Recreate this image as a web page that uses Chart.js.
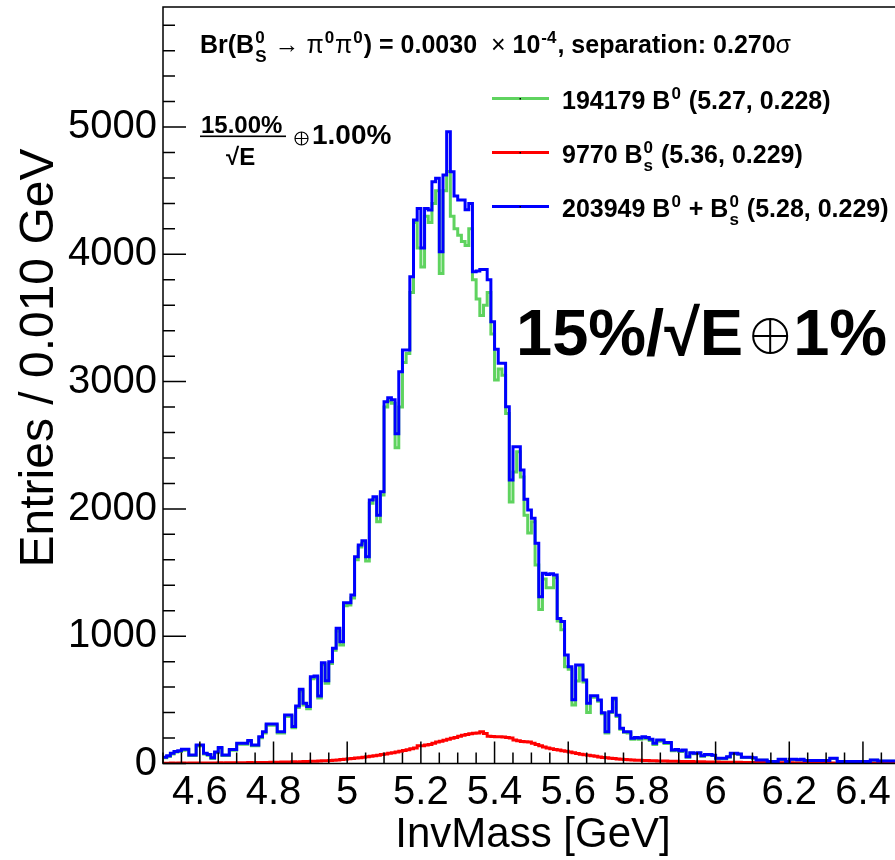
<!DOCTYPE html>
<html>
<head>
<meta charset="utf-8">
<script src="https://cdn.jsdelivr.net/npm/chart.js@4.4.0/dist/chart.umd.min.js"></script>
<style>
  html, body { margin: 0; padding: 0; background: #fff; }
  canvas { display: block; }
</style>
</head>
<body>
<canvas id="massChart" width="895" height="860"></canvas>
<script>
// binning of the histograms (GeV)
const binLow = 4.5;
const binWidth = 0.01;
const xMin = 4.5;
const xMax = 6.487;
const yMax = 5943;

const xTickValues = [4.6, 4.8, 5.0, 5.2, 5.4, 5.6, 5.8, 6.0, 6.2, 6.4];
const yTickValues = [0, 1000, 2000, 3000, 4000, 5000];

// B0 + Bs (blue)
const sumCounts = [
  50, 60, 80, 95, 100, 112, 112, 67, 67, 145,
  145, 80, 70, 45, 90, 125, 67, 67, 110, 110,
  159, 159, 159, 180, 145, 145, 211, 250, 310, 310,
  310, 250, 250, 381, 381, 290, 452, 583, 473, 447,
  682, 688, 530, 792, 650, 800, 905, 1062, 957, 1263,
  1263, 1323, 1625, 1716, 1750, 1625, 2070, 2096, 1950, 2135,
  2842, 2874, 2858, 2590, 3078, 3248, 3248, 3824, 4270, 4361,
  4050, 4361, 4348, 4570, 4597, 4020, 4623, 4963, 4649, 4458,
  4426, 4426, 4350, 4400, 3863, 3870, 3880, 3880, 3800, 3470,
  3254, 3144, 3144, 2803, 2227, 2489, 2489, 2306, 2075, 1991,
  1926, 1730, 1310, 1494, 1485, 1490, 1480, 1140, 1115, 852,
  760, 500, 774, 774, 656, 473, 533, 533, 499, 399,
  250, 407, 512, 380, 276, 250, 250, 198, 205, 200,
  210, 205, 190, 159, 185, 185, 165, 165, 106, 110,
  100, 106, 53, 85, 80, 85, 60, 70, 70, 65,
  41, 41, 41, 53, 80, 80, 75, 50, 50, 50,
  45, 27, 27, 27, 15, 15, 15, 34, 34, 15,
  34, 34, 30, 34, 24, 24, 24, 24, 24, 24,
  24, 41, 41, 15, 15, 15, 15, 15, 15, 15,
  15, 15, 27, 27, 20, 20, 20, 20, 20, 20
];

// B0 (green)
const b0Counts = [
  45, 55, 75, 90, 95, 105, 108, 62, 62, 138,
  140, 75, 65, 40, 85, 120, 62, 62, 105, 105,
  152, 152, 152, 172, 140, 140, 203, 240, 300, 300,
  300, 240, 240, 370, 370, 280, 440, 570, 460, 430,
  665, 675, 515, 775, 630, 785, 890, 1040, 930, 1240,
  1245, 1300, 1600, 1700, 1730, 1590, 2045, 2075, 1900, 2110,
  2800, 2850, 2830, 2480, 2800, 3150, 3220, 3700, 4250, 4050,
  3900, 4300, 4250, 4400, 4500, 3850, 4500, 4650, 4300, 4200,
  4150, 4100, 4070, 4200, 3800, 3650, 3520, 3600, 3700, 3375,
  3013, 3100, 3050, 2750, 2055, 2290, 2450, 2250, 1950, 1810,
  1900, 1560, 1210, 1450, 1380, 1380, 1460, 1120, 1050, 760,
  740, 460, 648, 760, 640, 400, 520, 520, 490, 390,
  240, 400, 500, 370, 270, 245, 240, 190, 195, 190,
  200, 195, 180, 150, 175, 178, 158, 158, 100, 104,
  95, 100, 50, 80, 76, 80, 56, 66, 66, 62,
  38, 38, 38, 50, 76, 76, 72, 47, 47, 47,
  42, 25, 25, 25, 13, 13, 13, 32, 32, 13,
  32, 32, 28, 32, 22, 22, 22, 22, 22, 22,
  22, 39, 39, 13, 13, 13, 13, 13, 13, 13,
  13, 13, 25, 25, 18, 18, 18, 18, 18, 18
];

// Bs (red)
const bsCounts = [
  2, 2, 3, 2, 3, 3, 2, 3, 3, 4,
  3, 4, 4, 3, 4, 5, 4, 5, 5, 6,
  5, 6, 6, 7, 6, 7, 8, 7, 8, 9,
  10, 9, 11, 11, 12, 13, 12, 14, 15, 16,
  17, 18, 19, 21, 22, 24, 26, 28, 31, 34,
  38, 40, 43, 46, 49, 53, 57, 61, 65, 70,
  75, 80, 85, 90, 96, 102, 108, 115, 122, 140,
  140, 145, 150, 160, 168, 175, 182, 190, 198, 205,
  215, 222, 228, 233, 238, 240, 250, 235, 215, 212,
  210, 211, 208, 205, 200, 185, 178, 172, 170, 168,
  160, 150, 140, 130, 122, 115, 110, 106, 100, 96,
  90, 84, 78, 72, 68, 64, 60, 56, 52, 48,
  45, 42, 39, 36, 34, 32, 30, 28, 26, 25,
  24, 23, 22, 21, 20, 20, 19, 18, 18, 17,
  16, 16, 15, 15, 14, 14, 13, 12, 12, 11,
  11, 10, 10, 10, 9, 9, 9, 8, 8, 8,
  7, 7, 7, 6, 6, 6, 6, 5, 5, 5,
  5, 4, 4, 4, 4, 4, 3, 3, 3, 3,
  3, 3, 2, 2, 2, 2, 2, 2, 2, 2,
  2, 2, 2, 1, 1, 1, 1, 1, 1, 1
];

const seriesLabels = ['194179 B0 (5.27, 0.228)', '9770 Bs0 (5.36, 0.229)', '203949 B0 + Bs0 (5.28, 0.229)'];
const seriesColors = ['#5fd35f', '#ff0000', '#0000ff'];

const FONT = '"Liberation Sans", Arial, Helvetica, sans-serif';

// histogram -> step points at the low bin edges (+ closing edge)
function toSteps(counts) {
  const pts = counts.map((v, i) => ({ x: binLow + i * binWidth, y: v }));
  pts.push({ x: binLow + counts.length * binWidth, y: counts[counts.length - 1] });
  return pts;
}

// text with super/subscripts, ROOT latex style
function drawRich(ctx, x, y, size, parts) {
  let cx = x;
  parts.forEach(p => {
    const w = p.w || 'bold';
    if (p.t !== undefined) {
      ctx.font = `${w} ${size}px ${FONT}`;
      ctx.fillText(p.t, cx, y);
      cx += ctx.measureText(p.t).width;
    } else {
      const ss = Math.round(size * 0.66);
      ctx.font = `${w} ${ss}px ${FONT}`;
      let adv = 0;
      if (p.sup) {
        ctx.fillText(p.sup, cx + 1, y - size * 0.4);
        adv = Math.max(adv, ctx.measureText(p.sup).width);
      }
      if (p.sub) {
        ctx.fillText(p.sub, cx + 1, y + size * 0.34);
        adv = Math.max(adv, ctx.measureText(p.sub).width);
      }
      cx += adv + 2;
    }
  });
  return cx;
}

// circled plus as drawn by ROOT latex
function oplus(ctx, cx, cy, r, lw) {
  ctx.save();
  ctx.lineWidth = lw;
  ctx.strokeStyle = '#000';
  ctx.beginPath();
  ctx.arc(cx, cy, r, 0, Math.PI * 2);
  ctx.moveTo(cx - r, cy); ctx.lineTo(cx + r, cy);
  ctx.moveTo(cx, cy - r); ctx.lineTo(cx, cy + r);
  ctx.stroke();
  ctx.restore();
}

const rootStyle = {
  id: 'rootStyle',
  afterDatasetsDraw(chart) {
    const { ctx, chartArea: a, scales: { x, y } } = chart;
    ctx.save();
    ctx.strokeStyle = '#000';
    ctx.fillStyle = '#000';
    ctx.lineWidth = 1.5;

    // frame
    ctx.beginPath();
    ctx.moveTo(a.right + 2, a.top);
    ctx.lineTo(a.left, a.top);
    ctx.lineTo(a.left, a.bottom);
    ctx.lineTo(a.right + 2, a.bottom);
    ctx.stroke();

    // x ticks (inside)
    ctx.beginPath();
    for (let k = 0; k <= 40; k++) {
      const v = xMin + k * 0.05;
      if (v > xMax) break;
      const px = x.getPixelForValue(v);
      const len = (k % 4 === 2) ? 22 : 11;
      ctx.moveTo(px, a.bottom);
      ctx.lineTo(px, a.bottom - len);
    }
    // y ticks (inside)
    for (let v = 0; v <= yMax; v += 200) {
      const py = y.getPixelForValue(v);
      const len = (v % 1000 === 0) ? 23 : 12;
      ctx.moveTo(a.left, py);
      ctx.lineTo(a.left + len, py);
    }
    ctx.stroke();

    // axis titles
    ctx.font = `42px ${FONT}`;
    ctx.textAlign = 'center';
    ctx.textBaseline = 'alphabetic';
    ctx.fillText('InvMass [GeV]', 533, 847);
    ctx.save();
    ctx.translate(53, 358);
    ctx.rotate(-Math.PI / 2);
    ctx.font = `48px ${FONT}`;
    ctx.fillText('Entries / 0.010 GeV', 0, 0);
    ctx.restore();
    ctx.textAlign = 'left';

    // header line
    drawRich(ctx, 200, 53, 25, [
      { t: 'Br(B' }, { sup: '0', sub: 'S' }, { t: ' \u2192 ', w: 'normal' },
      { t: '\u03c0', w: 'normal' }, { sup: '0' }, { t: '\u03c0', w: 'normal' }, { sup: '0' },
      { t: ') = 0.0030 ' }, { t: ' \u00d7 ', w: 'normal' }, { t: '10' }, { sup: '-4' },
      { t: ', separation: 0.270' }, { t: '\u03c3', w: 'normal' }
    ]);

    // resolution fraction
    ctx.font = `bold 24px ${FONT}`;
    ctx.fillText('15.00%', 201, 133);
    ctx.fillRect(200, 135.5, 86, 1.6);
    ctx.fillText('\u221aE', 226, 165);
    oplus(ctx, 301.5, 138.5, 6.5, 1.2);
    ctx.font = `bold 28px ${FONT}`;
    ctx.fillText('1.00%', 312, 144);

    // legend
    const entries = [
      [{ t: '194179 B' }, { sup: '0' }, { t: ' (5.27, 0.228)' }],
      [{ t: '9770 B' }, { sup: '0', sub: 's' }, { t: ' (5.36, 0.229)' }],
      [{ t: '203949 B' }, { sup: '0' }, { t: ' + B' }, { sup: '0', sub: 's' }, { t: ' (5.28, 0.229)' }]
    ];
    const lineY = [98.5, 152.5, 206.5];
    entries.forEach((parts, i) => {
      ctx.strokeStyle = seriesColors[i];
      ctx.lineWidth = 3;
      ctx.beginPath();
      ctx.moveTo(492, lineY[i]);
      ctx.lineTo(549, lineY[i]);
      ctx.stroke();
      ctx.fillStyle = '#000';
      ctx.fillRect(519.5, lineY[i] - 0.5, 1.5, 1.5);
      drawRich(ctx, 562, lineY[i] + 10, 25, parts);
    });

    // big label
    let bx = 516;
    ctx.font = `bold 65px ${FONT}`;
    ctx.fillText('15%/\u221aE', bx, 355);
    bx += ctx.measureText('15%/\u221aE').width + 10;
    oplus(ctx, bx + 17, 336, 17, 2);
    bx += 34 + 6;
    ctx.font = `bold 65px ${FONT}`;
    ctx.fillText('1%', bx, 355);

    ctx.restore();
  }
};

const datasets = [
  { label: seriesLabels[2], data: toSteps(sumCounts), borderColor: seriesColors[2], order: 0 },
  { label: seriesLabels[1], data: toSteps(bsCounts), borderColor: seriesColors[1], order: 1 },
  { label: seriesLabels[0], data: toSteps(b0Counts), borderColor: seriesColors[0], order: 2 }
].map(d => Object.assign(d, {
  stepped: true,
  borderWidth: 3,
  pointRadius: 0,
  fill: false,
  borderJoinStyle: 'miter',
  borderCapStyle: 'butt'
}));

new Chart(document.getElementById('massChart'), {
  type: 'line',
  data: { datasets: datasets },
  plugins: [rootStyle],
  options: {
    responsive: false,
    animation: false,
    devicePixelRatio: 1,
    layout: { padding: { top: 7, left: 0, right: 0, bottom: 0 } },
    plugins: {
      legend: { display: false },
      tooltip: { enabled: false }
    },
    scales: {
      x: {
        type: 'linear',
        min: xMin,
        max: xMax,
        grid: { display: false, drawTicks: false },
        border: { display: false },
        afterBuildTicks: axis => { axis.ticks = xTickValues.map(v => ({ value: v })); },
        afterFit: axis => {
          axis.height = 96.5;
          axis.paddingLeft = 0; axis.paddingRight = 0;
        },
        ticks: {
          autoSkip: false,
          maxRotation: 0,
          padding: 5,
          color: '#000',
          font: { family: FONT, size: 40 },
          callback: v => String(Math.round(v * 10) / 10)
        }
      },
      y: {
        min: 0,
        max: yMax,
        grid: { display: false, drawTicks: false },
        border: { display: false },
        afterBuildTicks: axis => { axis.ticks = yTickValues.map(v => ({ value: v })); },
        afterFit: axis => {
          axis.width = 163;
          axis.paddingTop = 0; axis.paddingBottom = 0;
        },
        ticks: {
          padding: 6,
          color: '#000',
          font: { family: FONT, size: 40 },
          callback: v => String(v)
        }
      }
    }
  }
});
</script>
</body>
</html>
